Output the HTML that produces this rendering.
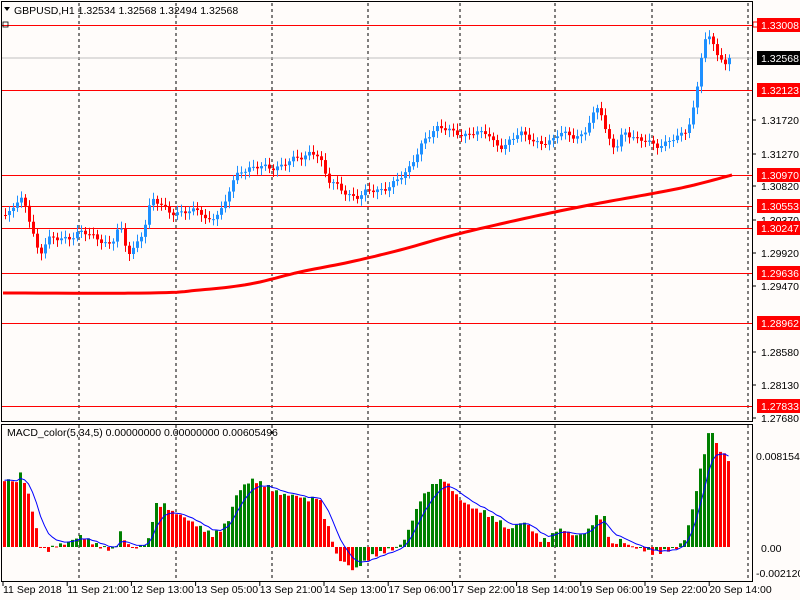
<!DOCTYPE html><html><head><style>body{margin:0;background:#fff}svg{display:block;font-family:"Liberation Sans",sans-serif}</style></head><body>
<svg id="s" width="800" height="600" xmlns="http://www.w3.org/2000/svg">
<rect width="800" height="600" fill="#fffcfa"/>
<g id="g"></g>
</svg>
<script>
const NS="http://www.w3.org/2000/svg",g=document.getElementById('g');
function el(t,a,txt){const e=document.createElementNS(NS,t);for(const k in a)e.setAttribute(k,a[k]);if(txt!=null)e.textContent=txt;g.appendChild(e);return e;}
function interp(kp,x){for(let i=0;i<kp.length-1;i++){if(x>=kp[i][0]&&x<=kp[i+1][0]){const t=(x-kp[i][0])/(kp[i+1][0]-kp[i][0]);return kp[i][1]+t*(kp[i+1][1]-kp[i][1]);}}return x<kp[0][0]?kp[0][1]:kp[kp.length-1][1];}
[79,176,272,368,460,555,652,748].forEach(x=>{el('line',{x1:x,y1:3,x2:x,y2:420,stroke:'#000','stroke-dasharray':'3,3'});el('line',{x1:x,y1:425,x2:x,y2:582,stroke:'#000','stroke-dasharray':'3,3'});});
const P=p=>25+(1.33008-p)*7362;
el('line',{x1:2,y1:58,x2:752,y2:58,stroke:'#c0c0c0'});
[1.33008,1.32123,1.30970,1.30553,1.30247,1.29636,1.28962,1.27833].forEach(p=>{const y=Math.round(P(p))+.5;el('line',{x1:2,y1:y,x2:752,y2:y,stroke:'#f00'});});
el('rect',{x:3,y:22,width:5,height:5,fill:'none',stroke:'#000','stroke-width':.8});
el('rect',{x:753,y:22,width:5,height:5,fill:'#fff',stroke:'#f00','stroke-width':1});
// MA smooth
const ma=[[3,293],[150,293],[200,290],[250,284],[300,272],[350,262],[400,250],[450,236],[500,224],[550,213],[600,203],[650,194],[690,186],[732,175]];
let mp=[];
for(let i=0;i<ma.length-1;i++){const p0=ma[Math.max(0,i-1)],p1=ma[i],p2=ma[i+1],p3=ma[Math.min(ma.length-1,i+2)];
for(let t=0;t<1;t+=0.1){const t2=t*t,t3=t2*t;const f=(a,b,c,d)=>0.5*((2*b)+(-a+c)*t+(2*a-5*b+4*c-d)*t2+(-a+3*b-3*c+d)*t3);mp.push(f(p0[0],p1[0],p2[0],p3[0]).toFixed(1)+','+f(p0[1],p1[1],p2[1],p3[1]).toFixed(1));}}
mp.push('732,175');
el('polyline',{points:mp.join(' '),fill:'none',stroke:'#f00','stroke-width':3,'stroke-linejoin':'round'});
const cp=[[7,215],[15,205],[23,200],[31,225],[39,255],[47,240],[55,240],[63,238],[71,236],[79,232],[87,235],[95,238],[103,240],[111,245],[119,225],[127,255],[135,245],[143,230],[151,200],[159,205],[167,210],[175,212],[183,212],[191,213],[199,210],[207,220],[215,215],[223,210],[231,185],[239,170],[247,168],[255,168],[263,168],[271,168],[279,165],[287,162],[295,160],[303,158],[311,150],[319,155],[327,182],[335,185],[343,190],[351,195],[359,198],[367,192],[375,190],[383,188],[391,185],[399,180],[407,172],[415,155],[423,140],[431,135],[439,128],[447,128],[455,130],[463,138],[471,135],[479,132],[487,130],[495,145],[503,150],[511,140],[519,130],[527,135],[535,145],[543,145],[551,140],[559,130],[567,135],[575,140],[583,135],[591,115],[599,105],[607,140],[615,150],[623,130],[631,135],[639,142],[647,142],[655,145],[663,143],[671,140],[679,138],[687,130],[695,100],[703,40],[711,40],[719,60],[727,65],[732,60]];
let prev=215;
for(let x=5;x<=732;x+=4){let c=interp(cp,x)+Math.sin(x*1.7)*4*Math.cos(x*0.31);if(x>=728)c=58;const o=prev;const up=c<o;const col=up?'#1e90ff':'#f00';const top=Math.min(o,c),bot=Math.max(o,c);
el('line',{x1:x+.5,y1:top-3-Math.abs(Math.sin(x))*4,x2:x+.5,y2:bot+3+Math.abs(Math.cos(x))*4,stroke:col});
el('rect',{x:x-1,y:top,width:3,height:Math.max(1,bot-top),fill:col});prev=c;}
const mk=[[7,480],[15,482],[19,473],[23,482],[27,495],[31,510],[35,530],[39,545],[43,550],[47,550],[55,545],[63,544],[71,540],[79,536],[87,540],[95,545],[103,548],[111,550],[115,545],[119,532],[123,540],[131,548],[139,547],[147,540],[151,520],[155,505],[163,505],[171,512],[179,515],[187,520],[195,525],[203,530],[211,535],[219,530],[227,520],[235,495],[243,485],[251,480],[259,483],[267,487],[275,492],[283,495],[291,495],[299,497],[307,500],[315,497],[319,502],[323,517],[327,528],[331,540],[335,555],[339,560],[347,565],[351,570],[355,568],[363,562],[371,556],[379,553],[387,550],[395,548],[403,540],[411,520],[419,500],[427,490],[435,482],[443,480],[451,490],[459,500],[467,505],[475,510],[483,512],[491,518],[499,522],[507,530],[515,525],[523,522],[531,530],[539,540],[547,540],[555,530],[563,530],[571,535],[579,535],[587,530],[595,517],[603,518],[607,535],[611,545],[619,540],[627,545],[635,548],[643,550],[651,553],[659,552],[667,550],[675,548],[683,540],[691,510],[699,470],[707,435],[711,431],[715,445],[723,455],[729,462]];
let pv=480,sig=480,sp=[];
for(let x=3;x<=729;x+=4){let v=interp(mk,x)+Math.sin(x*2.3)*2;const col=v<pv?'#008000':'#f00';
el('rect',{x:x,y:Math.min(v,547),width:3,height:Math.max(1,Math.abs(547-v)),fill:col});pv=v;sig=sig+0.3*(v-sig);sp.push(x+1.5+','+sig.toFixed(1));}
el('polyline',{points:sp.join(' '),fill:'none',stroke:'#00f','stroke-width':1});
el('rect',{x:1.5,y:1.5,width:751,height:420,fill:'none',stroke:'#000'});
el('rect',{x:1.5,y:424.5,width:751,height:157,fill:'none',stroke:'#000'});
[[1.31720,120],[1.31270,154],[1.30820,186],[1.30370,220],[1.29920,253],[1.29470,286],[1.28580,352],[1.28130,385],[1.27680,418]].forEach(a=>{el('line',{x1:752,y1:a[1],x2:756,y2:a[1],stroke:'#000'});el('text',{x:761,y:a[1]+4,'font-size':10.5,fill:'#000'},a[0].toFixed(5));});
[1.33008,1.32123,1.30970,1.30553,1.30247,1.29636,1.28962,1.27833].forEach(p=>{const y=Math.round(P(p));el('rect',{x:757,y:y-7,width:43,height:14,fill:'#f00'});el('text',{x:761,y:y+4,'font-size':10.5,fill:'#fff'},p.toFixed(5));});
el('rect',{x:757,y:51,width:43,height:14,fill:'#000'});el('text',{x:761,y:62,'font-size':10.5,fill:'#fff'},'1.32568');
el('text',{x:756,y:460,'font-size':10.5,fill:'#000'},'0.008154');
el('text',{x:761,y:552,'font-size':10.5,fill:'#000'},'0.00');
el('text',{x:756,y:577,'font-size':10.5,fill:'#000'},'-0.002120');
el('path',{d:'M4 7 L10 7 L7 11 Z',fill:'#000'});
el('text',{x:14,y:14,'font-size':10.5,fill:'#000'},'GBPUSD,H1  1.32534 1.32568 1.32494 1.32568');
el('text',{x:7,y:436,'font-size':10.5,fill:'#000'},'MACD_color(5,34,5) 0.00000000 0.00000000 0.00605496');
['11 Sep 2018','11 Sep 21:00','12 Sep 13:00','13 Sep 05:00','13 Sep 21:00','14 Sep 13:00','17 Sep 06:00','17 Sep 22:00','18 Sep 14:00','19 Sep 06:00','19 Sep 22:00','20 Sep 14:00'].forEach((t,i)=>{const x=3+i*64.2;el('line',{x1:x,y1:582,x2:x,y2:586,stroke:'#000'});el('text',{x:x,y:593,'font-size':10.5,fill:'#000'},t);});
</script></body></html>
